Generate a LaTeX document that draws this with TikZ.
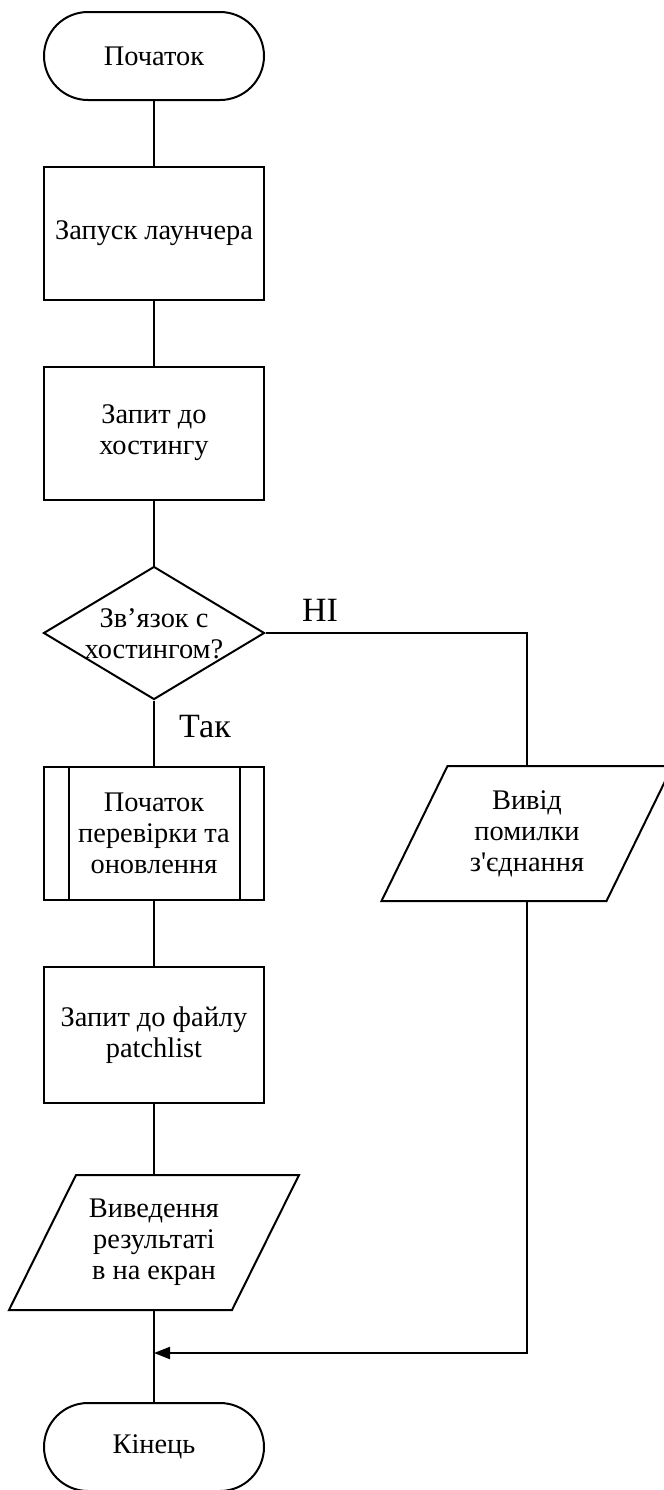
\documentclass[tikz,border=0pt]{standalone}
\usepackage{fontspec}
\setmainfont{Liberation Serif}
\usetikzlibrary{arrows.meta,shapes.geometric}
\begin{document}
\begin{tikzpicture}[x=0.5pt,y=-0.5pt, line width=1pt,
  base/.style={font=\fontsize{14.2}{15.5}\selectfont, align=center, inner sep=0pt},
  term/.style={base, draw, rounded corners=22pt, minimum width=110pt, minimum height=44pt},
  proc/.style={base, draw, minimum width=110pt, minimum height=66.5pt},
  frame/.style={base, minimum width=110.5pt, minimum height=66.5pt},
  dia/.style={draw, diamond, inner sep=0pt, minimum width=110.5pt, minimum height=66.5pt},
  lbl/.style={font=\fontsize{17}{20}\selectfont, inner sep=0pt},
  tip/.style={-{Triangle[length=8pt,width=6pt]}}]
\useasboundingbox (0,0) rectangle (664,1490);

\node[term] (start) at (154,56) {Початок};
\node[proc] (b1) at (154,233.5) {Запуск лаунчера};
\node[proc] (b2) at (154,433) {Запит до\\хостингу};
\node[dia] (dec) at (154,633) {};
\node[base] (dect) at (154,634) {Зв’язок с\\хостингом?};
\node[proc] (pp) at (154,833.5) {Початок\\перевірки та\\оновлення};
\draw ([xshift=13pt]pp.north west) -- ([xshift=13pt]pp.south west);
\draw ([xshift=-12.5pt]pp.north east) -- ([xshift=-12.5pt]pp.south east);
\node[proc, minimum height=68pt] (b3) at (154,1035) {Запит до файлу\\patchlist};
\node[frame] (io1) at (154,1242.5) {Виведення\\результаті\\в на екран};
\draw ([xshift=16.75pt]io1.north west) -- ([xshift=16.75pt]io1.north east)
  -- ([xshift=-16.75pt]io1.south east) -- ([xshift=-16.75pt]io1.south west) -- cycle;
\node[frame, minimum width=111.5pt] (io2) at (527,833.5) {Вивід\\помилки\\з\textquotesingle єднання};
\draw ([xshift=16.5pt]io2.north west) -- ([xshift=16.5pt]io2.north east)
  -- ([xshift=-16.5pt]io2.south east) -- ([xshift=-16.5pt]io2.south west) -- cycle;
\node[term] (end) at (154,1447) {Кінець};

\node[lbl] (no) at (320,610) {НІ};
\node[lbl] (yes) at (205,727) {Так};

\coordinate (j) at (154,1353);
\draw (start.south) -- (b1.north);
\draw (b1.south) -- (b2.north);
\draw (b2.south) -- (dec.north);
\draw (dec.south) -- (pp.north);
\draw (pp.south) -- (b3.north);
\draw (b3.south) -- (io1.south |- io1.north);
\draw (io1.south) -- (end.north);
\draw (dec.east) -| (io2.north);
\draw[tip] (io2.south) |- (j);
\end{tikzpicture}
\end{document}
